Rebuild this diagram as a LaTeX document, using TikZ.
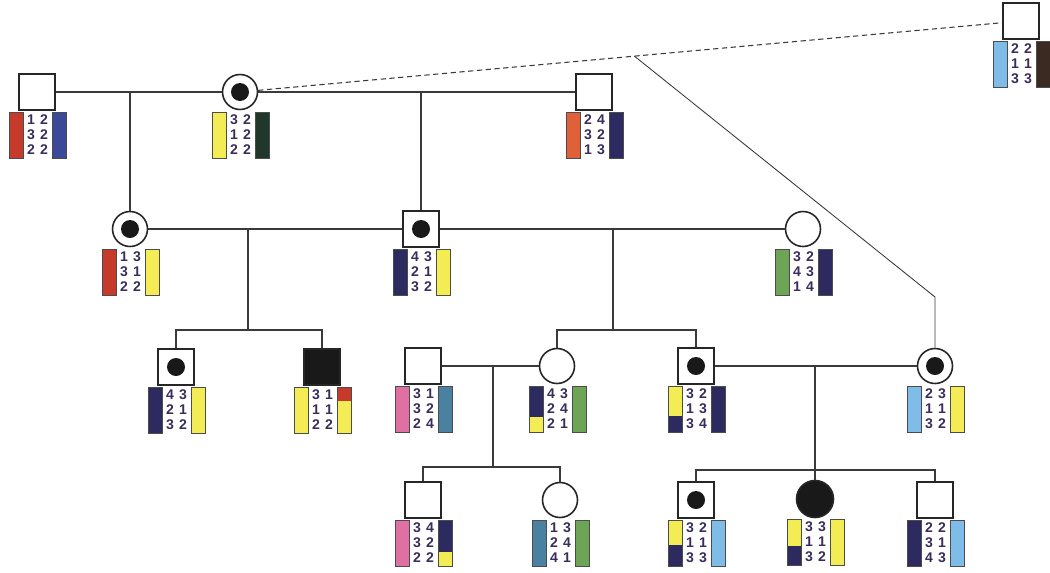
\documentclass[tikz,border=0pt]{standalone}
\usepackage{fontspec}
\newfontfamily\numfont{Liberation Sans}
\usetikzlibrary{calc}

\definecolor{hred}{HTML}{C63A2C}
\definecolor{hblue}{HTML}{3A4A98}
\definecolor{hyellow}{HTML}{F4EC55}
\definecolor{hdgreen}{HTML}{20382C}
\definecolor{horange}{HTML}{E0603A}
\definecolor{hnavy}{HTML}{2C2A5E}
\definecolor{hlblue}{HTML}{7FBCE8}
\definecolor{hbrown}{HTML}{3A2A22}
\definecolor{hgreen}{HTML}{6EA455}
\definecolor{hpink}{HTML}{E070A2}
\definecolor{hteal}{HTML}{4A80A0}
\definecolor{numc}{HTML}{3A2D5C}
\definecolor{linec}{HTML}{3A3A3A}

% haplotype block under a symbol: node, left digits, right digits,
% left bar top/bottom colour and split, right bar top/bottom colour and split
\newcommand{\haplo}[9]{%
  \begin{scope}[shift={(#1)}]
    \fill[#5] (-28,20) rectangle (-14,66);
    \fill[#4] (-28,20) rectangle (-14,#6);
    \draw[barline] (-28,20) rectangle (-14,66);
    \fill[#8] (15,20) rectangle (29,66);
    \fill[#7] (15,20) rectangle (29,#9);
    \draw[barline] (15,20) rectangle (29,66);
    \node[nums] (#1l) at (-6,43) {#2};
    \node[nums] (#1r) at (7,43) {#3};
  \end{scope}}

\begin{document}
\begin{tikzpicture}[x=0.02cm,y=-0.02cm,
  male/.style={draw=black!85,line width=0.9pt,fill=white,minimum size=7.2mm,inner sep=0},
  female/.style={circle,draw=black!85,line width=0.9pt,fill=white,minimum size=7mm,inner sep=0},
  carrier/.style={path picture={\fill[black!90] (path picture bounding box.center) circle (1.8mm);}},
  affected/.style={fill=black!90},
  kin/.style={draw=linec,line width=0.8pt},
  alt/.style={draw=linec,line width=0.6pt,densely dashed},
  barline/.style={draw=black!70,line width=0.5pt},
  nums/.style={font=\numfont\bfseries\fontsize{8}{8.5}\selectfont,text=numc,align=center,inner sep=0}]
  \useasboundingbox (0,0) rectangle (1050,572);

  % generation I
  \node[male] (I1) at (37,92) {};
  \node[female,carrier] (I2) at (240,92) {};
  \node[male] (I3) at (594,92) {};
  \node[male] (I4) at (1021,21) {};
  % generation II
  \node[female,carrier] (II1) at (130,229) {};
  \node[male,carrier] (II2) at (421,229) {};
  \node[female] (II3) at (803,229) {};
  % generation III
  \node[male,carrier] (III1) at (176,367) {};
  \node[male,affected] (III2) at (322,367) {};
  \node[male] (III3) at (423,366) {};
  \node[female] (III4) at (557,366) {};
  \node[male,carrier] (III5) at (696,366) {};
  \node[female,carrier] (III6) at (935,366) {};
  % generation IV
  \node[male] (IV1) at (423,500) {};
  \node[female] (IV2) at (560,500) {};
  \node[male,carrier] (IV3) at (696,500) {};
  \node[female,affected,minimum size=7.4mm] (IV4) at (815,499) {};
  \node[male] (IV5) at (935,500) {};

  % haplotypes
  \haplo{I1}{1\\3\\2}{2\\2\\2}{hred}{hred}{66}{hblue}{hblue}{66}
  \haplo{I2}{3\\1\\2}{2\\2\\2}{hyellow}{hyellow}{66}{hdgreen}{hdgreen}{66}
  \haplo{I3}{2\\3\\1}{4\\2\\3}{horange}{horange}{66}{hnavy}{hnavy}{66}
  \haplo{I4}{2\\1\\3}{2\\1\\3}{hlblue}{hlblue}{66}{hbrown}{hbrown}{66}
  \haplo{II1}{1\\3\\2}{3\\1\\2}{hred}{hred}{66}{hyellow}{hyellow}{66}
  \haplo{II2}{4\\2\\3}{3\\1\\2}{hnavy}{hnavy}{66}{hyellow}{hyellow}{66}
  \haplo{II3}{3\\4\\1}{2\\3\\4}{hgreen}{hgreen}{66}{hnavy}{hnavy}{66}
  \haplo{III1}{4\\2\\3}{3\\1\\2}{hnavy}{hnavy}{66}{hyellow}{hyellow}{66}
  \haplo{III2}{3\\1\\2}{1\\1\\2}{hyellow}{hyellow}{66}{hred}{hyellow}{34}
  \haplo{III3}{3\\3\\2}{1\\2\\4}{hpink}{hpink}{66}{hteal}{hteal}{66}
  \haplo{III4}{4\\2\\2}{3\\4\\1}{hnavy}{hyellow}{51}{hgreen}{hgreen}{66}
  \haplo{III5}{3\\1\\3}{2\\3\\4}{hyellow}{hnavy}{50}{hnavy}{hnavy}{66}
  \haplo{III6}{2\\1\\3}{3\\1\\2}{hlblue}{hlblue}{66}{hyellow}{hyellow}{66}
  \haplo{IV1}{3\\3\\2}{4\\2\\2}{hpink}{hpink}{66}{hnavy}{hyellow}{52}
  \haplo{IV2}{1\\2\\4}{3\\4\\1}{hteal}{hteal}{66}{hgreen}{hgreen}{66}
  \haplo{IV3}{3\\1\\3}{2\\1\\3}{hyellow}{hnavy}{45}{hlblue}{hlblue}{66}
  \haplo{IV4}{3\\1\\3}{3\\1\\2}{hyellow}{hnavy}{47}{hyellow}{hyellow}{66}
  \haplo{IV5}{2\\3\\4}{2\\1\\3}{hnavy}{hnavy}{66}{hlblue}{hlblue}{66}

  % matings and lines of descent
  \coordinate (m1) at (130,92);
  \coordinate (m2) at (421,92);
  \coordinate (m3) at ($(I2)!0.505!(I4)$);
  \coordinate (k3) at (935,297);
  \coordinate (m4) at (248,229);
  \coordinate (s1) at (248,330);
  \coordinate (m5) at (613,229);
  \coordinate (s2) at (613,330);
  \coordinate (m6) at (493,366);
  \coordinate (s3) at (493,467);
  \coordinate (m7) at (815,366);
  \coordinate (s4) at (815,470);

  \draw[kin] (I1) -- (I2);
  \draw[kin] (I2) -- (I3);
  \draw[alt] (I2) -- (I4);
  \draw[kin] (m1) -- (II1);
  \draw[kin] (m2) -- (II2);
  \draw[kin,line width=0.5pt] (m3) -- (k3) -- (III6);
  \draw[kin] (II1) -- (II2);
  \draw[kin] (II2) -- (II3);
  \draw[kin] (m4) -- (s1);
  \draw[kin] (III1) |- (s1) -| (III2);
  \draw[kin] (m5) -- (s2);
  \draw[kin] (III4) |- (s2) -| (III5);
  \draw[kin] (III3) -- (III4);
  \draw[kin] (III5) -- (III6);
  \draw[kin] (m6) -- (s3);
  \draw[kin] (IV1) |- (s3) -| (IV2);
  \draw[kin] (m7) -- (s4) -- (IV4);
  \draw[kin] (IV3) |- (s4) -| (IV5);
\end{tikzpicture}
\end{document}
